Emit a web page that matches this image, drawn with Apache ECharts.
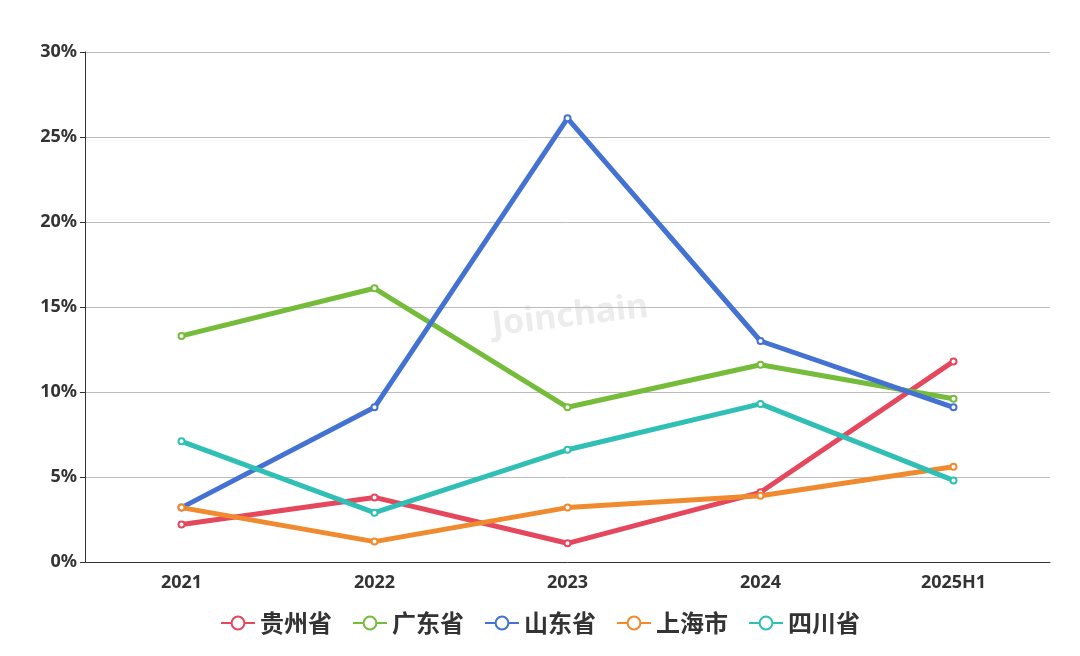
<!DOCTYPE html>
<html><head><meta charset="utf-8">
<script src="https://cdn.jsdelivr.net/npm/echarts@6/dist/echarts.min.js"></script>
<style>html,body{margin:0;background:#fff}#c{width:1080px;height:656px}</style>
</head><body><div id="c"></div>
<script>
const categories=['2021','2022','2023','2024','2025H1'];
const guizhou=[2.2,3.8,1.1,4.1,11.8];
const guangdong=[13.3,16.1,9.1,11.6,9.6];
const shandong=[3.2,9.1,26.1,13.0,9.1];
const shanghai=[3.2,1.2,3.2,3.9,5.6];
const sichuan=[7.1,2.9,6.6,9.3,4.8];
const names=['贵州省','广东省','山东省','上海市','四川省'];
const colors=['#e5475d','#75bc3a','#4472d2','#ef8a2e','#2fbfb5'];
const data=[guizhou,guangdong,shandong,shanghai,sichuan];
const chart=echarts.init(document.getElementById('c'));
chart.setOption({
  color:colors,
  grid:{left:85,right:30,top:52,bottom:94},
  graphic:[{type:'text',left:490,top:290,rotation:0.12,style:{text:'Joinchain',fontSize:34,fontWeight:'bold',fill:'rgba(180,180,180,0.25)',fontFamily:'Noto Sans'}}],
  legend:{bottom:16,itemGap:20,itemWidth:34,itemHeight:16,
    textStyle:{fontSize:24,fontWeight:'bold',color:'#333',fontFamily:'Noto Sans CJK SC'},data:names},
  xAxis:{type:'category',data:categories,boundaryGap:true,
    axisLine:{lineStyle:{color:'#333'}},axisTick:{lineStyle:{color:'#333'}},
    axisLabel:{fontSize:18,fontWeight:'bold',color:'#333',margin:12,fontFamily:'Noto Sans'}},
  yAxis:{type:'value',min:0,max:30,interval:5,
    axisLine:{show:true,lineStyle:{color:'#333'}},axisTick:{show:true,lineStyle:{color:'#333'}},
    splitLine:{lineStyle:{color:'#bbb'}},
    axisLabel:{formatter:'{value}%',fontSize:18,fontWeight:'bold',color:'#333',fontFamily:'Noto Sans'}},
  series:names.map((n,i)=>({name:n,type:'line',data:data[i],symbol:'emptyCircle',symbolSize:6,
    lineStyle:{width:5,color:colors[i]},itemStyle:{color:colors[i],borderWidth:1.5}}))
});
</script></body></html>
